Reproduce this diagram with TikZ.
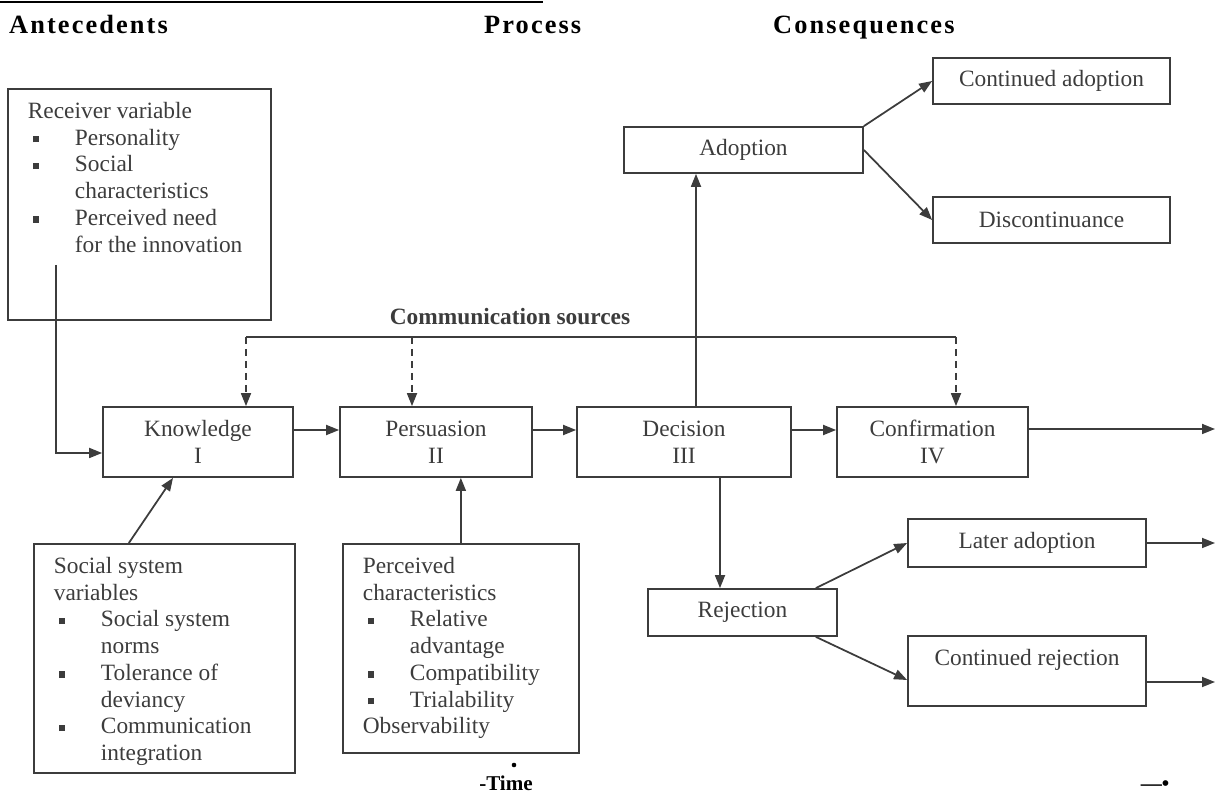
\documentclass[tikz,border=0pt]{standalone}
\usepackage{fontspec}
\setmainfont{Liberation Serif}
\newfontfamily\headfont[LetterSpace=8]{Liberation Serif}
\usetikzlibrary{arrows.meta}
\definecolor{ink}{HTML}{3C3C3C}
\newcommand{\bul}{\par\noindent\hangindent=26.8pt\hangafter=1\makebox[26.8pt][l]{\hspace{3pt}\rule[1.6pt]{3.6pt}{3.6pt}}}
\newcommand{\txtsize}{\fontsize{13.3}{15.2}\selectfont}

\begin{document}
\begin{tikzpicture}[x=0.02cm,y=-0.02cm,
  stage/.style={draw=ink,line width=1pt,minimum width=#1,minimum height=1.4cm,align=center,inner sep=2pt,font=\txtsize,text=ink},
  cons/.style={draw=ink,line width=1pt,minimum width=#1,minimum height=0.94cm,inner sep=2pt,font=\txtsize,text=ink},
  note/.style={draw=ink,line width=1pt,anchor=north west,inner xsep=0.4cm,inner ysep=0.27cm,font=\txtsize,text=ink},
  headtxt/.style={anchor=base west,font=\headfont\bfseries\fontsize{15}{18}\selectfont},
  link/.style={draw=ink,line width=1pt,-{Triangle[length=0.26cm,width=0.2cm]}},
  dlink/.style={link,dash pattern=on 0.14cm off 0.1cm}]
\useasboundingbox (0,0) rectangle (1218,793);
% headings
\draw[line width=1.2pt] (0,2) -- (543,2);
\node[headtxt] (ante) at (3,34) {Antecedents};
\node[headtxt] (proc) at (478,34) {Process};
\node[headtxt] (cnsq) at (767,34) {Consequences};
% antecedents
\node[note] (recv) at (7,88) {\parbox[t][4.08cm][t]{4.46cm}{\raggedright Receiver variable\bul Personality\bul Social\newline characteristics\bul Perceived need\newline for the innovation}};
\node[note] (soc) at (33,543) {\parbox[t][4.04cm][t]{4.42cm}{\raggedright Social system\\variables\bul Social system\newline norms\bul Tolerance of\newline deviancy\bul Communication\newline integration}};
\node[note] (perc) at (342,543) {\parbox[t][3.64cm][t]{3.92cm}{\raggedright Perceived\\characteristics\bul Relative\newline advantage\bul Compatibility\bul Trialability\par\noindent Observability}};
% process
\node[stage=3.8cm] (know) at (198,442) {Knowledge\\I};
\node[stage=3.84cm] (pers) at (436,442) {Persuasion\\II};
\node[stage=4.28cm] (dec) at (684,442) {Decision\\III};
\node[stage=3.82cm] (conf) at (932.5,442) {Confirmation\\IV};
% consequences
\node[cons=4.78cm,minimum height=0.92cm] (adop) at (743.5,150) {Adoption};
\node[cons=4.74cm,minimum height=0.92cm] (contad) at (1051.5,81) {Continued adoption};
\node[cons=4.74cm,minimum height=0.92cm] (disc) at (1051.5,220) {Discontinuance};
\node[cons=3.78cm] (rej) at (742.5,612.5) {Rejection};
\node[cons=4.76cm,minimum height=0.96cm] (later) at (1027,543) {Later adoption};
\node[cons=4.76cm,minimum height=1.4cm,text depth=0.55cm] (contrej) at (1027,671) {Continued rejection};
% communication sources
\node[anchor=base,font=\bfseries\txtsize,text=ink] (comm) at (510,325) {Communication sources};
\coordinate (csK) at (246,337);
\coordinate (csP) at (412,337);
\coordinate (csC) at (956,337);
\draw[draw=ink,line width=1pt] (csK) -- (csC);
\foreach \c/\n in {csK/know,csP/pers,csC/conf}
\draw[dlink] (\c) -- (\c |- \n.north);
% flow
\coordinate (rv) at (56,265);
\draw[link] (rv) |- ([yshift=-0.22cm]know.west);
\foreach \a/\b in {know/pers,pers/dec,dec/conf}
\draw[link] ([yshift=0.24cm]\a.east) -- ([yshift=0.24cm]\b.west);
\draw[link] ([xshift=-0.71cm]soc.north) -- ([xshift=-0.5cm]know.south);
\draw[link] (perc.north) -- (perc.north |- pers.south);
\draw[link] ([xshift=0.24cm]dec.north) -- ([xshift=0.24cm]dec.north |- adop.south);
\draw[link] ([xshift=-0.45cm]rej.north |- dec.south) -- ([xshift=-0.45cm]rej.north);
\draw[link] (adop.north east) -- (contad.west);
\draw[link] (adop.east) -- (disc.west);
\draw[link] ([xshift=-0.44cm]rej.north east) -- (later.west);
\draw[link] ([xshift=-0.44cm]rej.south east) -- ([yshift=-0.18cm]contrej.west);
\coordinate (outC) at (1215,429);
\coordinate (outL) at (1215,543);
\coordinate (outR) at (1215,682);
\foreach \n/\o in {conf/outC,later/outL,contrej/outR}
\draw[link] (\n.east |- \o) -- (\o);
% time
\fill (514,765) circle (1.3pt);
\node[anchor=base,font=\bfseries\fontsize{12}{14}\selectfont] (time) at (506,791) {-Time};
\node[anchor=base,font=\bfseries\fontsize{12}{14}\selectfont] (tend) at (1155,791) {—•};
\end{tikzpicture}
\end{document}
